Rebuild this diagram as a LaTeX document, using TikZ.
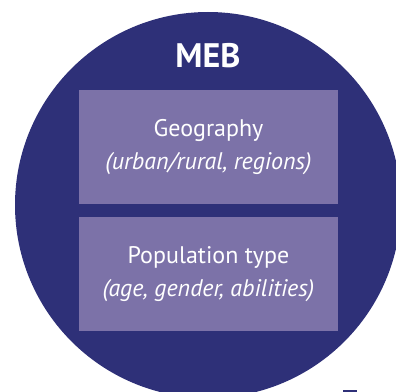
\documentclass[tikz,border=0pt]{standalone}
\usepackage{fontspec}
\setmainfont{PT Sans}
\usetikzlibrary{positioning}
\definecolor{mebnavy}{RGB}{46,48,120}
\definecolor{mebviolet}{RGB}{124,114,168}
\tikzset{
  violet box/.style={
    fill=mebviolet,
    text=white,
    minimum width=259bp,
    minimum height=114bp,
    align=center,
    inner sep=0pt,
    font=\fontsize{24bp}{33bp}\selectfont,
  },
  title/.style={
    text=white,
    font=\fontsize{34bp}{38bp}\selectfont\bfseries,
  }
}
\begin{document}
\begin{tikzpicture}[x=1bp,y=1bp,node distance=13bp]
        \useasboundingbox (0,0) rectangle (396,392);
        \clip (0,0) rectangle (396,392);
        \fill [mebnavy] (208,187) circle (193);
        \fill [mebnavy] (343,0) rectangle (357,2);

        \node [title] (meb) at (208,336) {MEB};
        \node [violet box] (geo) at (208.5,245) {Geography\\\textit{(urban/rural, regions)}};
        \node [violet box, below=of geo] (pop) {Population type\\\textit{(age, gender, abilities)}};
      \end{tikzpicture}
\end{document}
